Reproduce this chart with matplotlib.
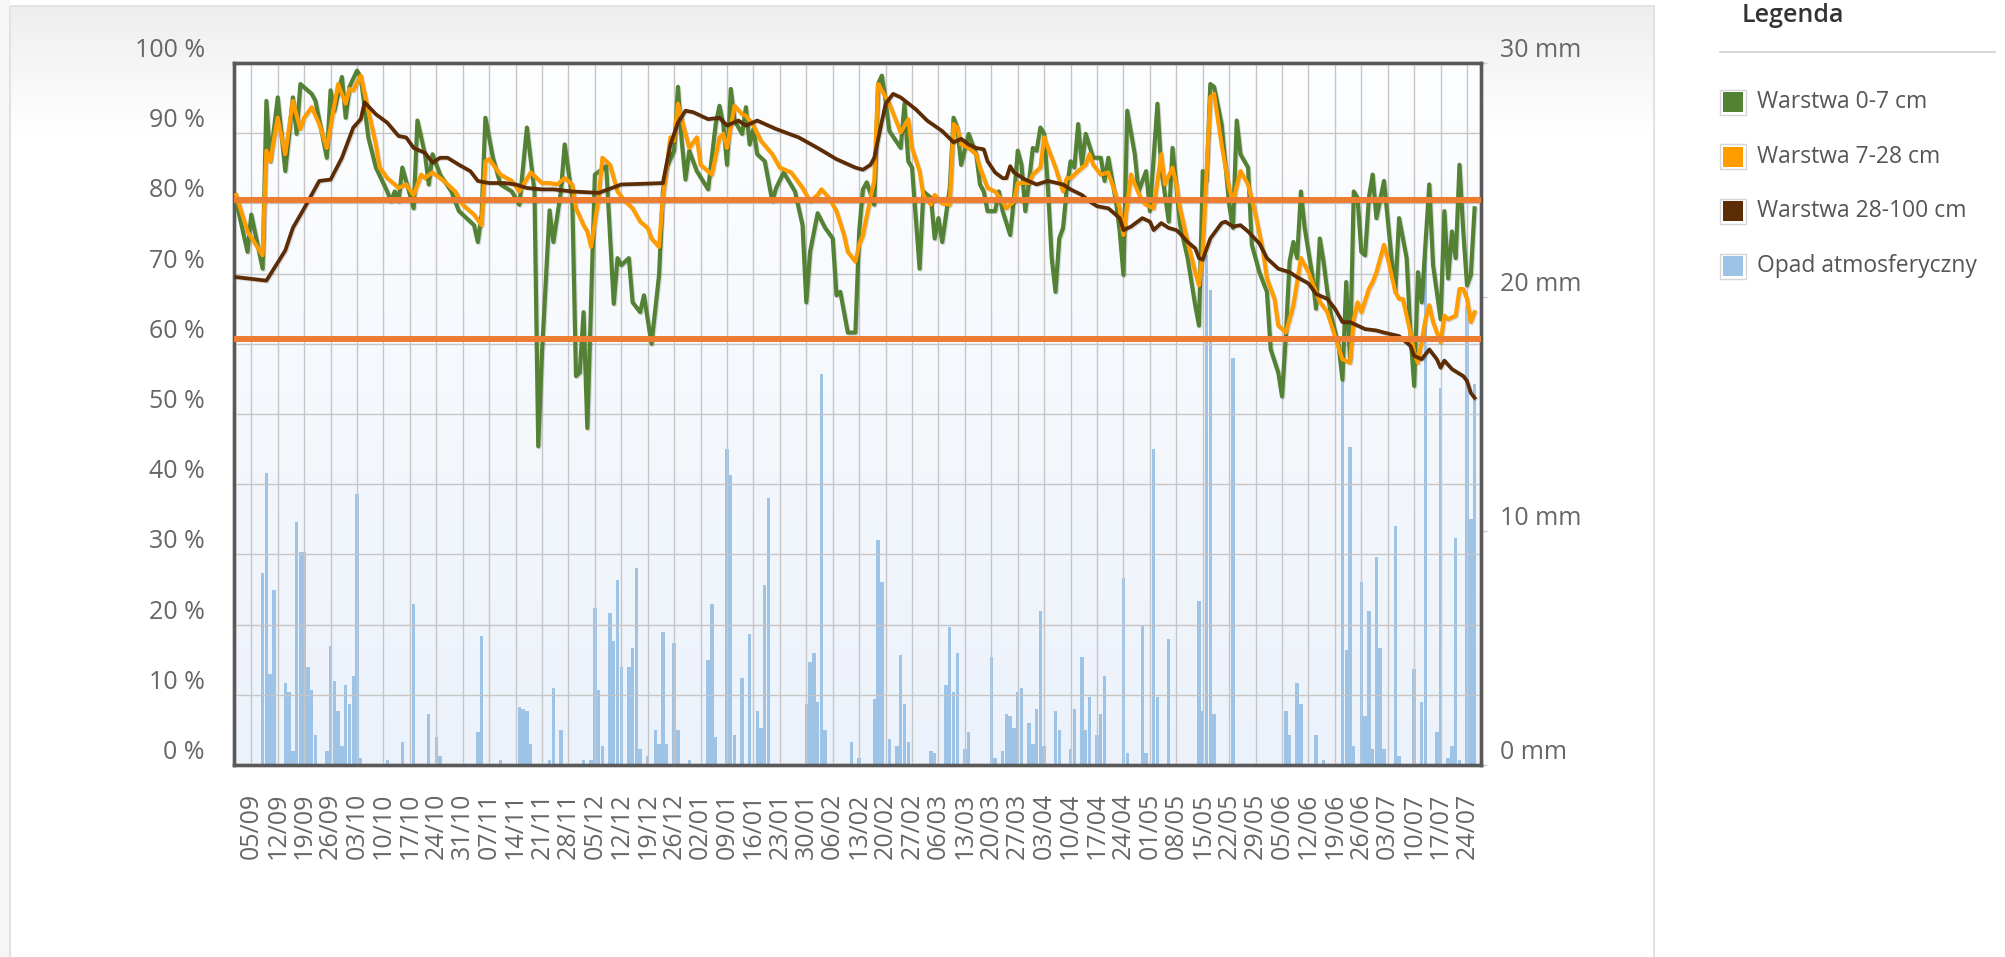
import numpy as np
import pandas as pd
import matplotlib
matplotlib.use('Agg')
import matplotlib.pyplot as plt
import matplotlib.patheffects as pe
from matplotlib.colors import LinearSegmentedColormap
from matplotlib.patches import Rectangle

plt.rcParams['font.family'] = ['Open Sans', 'DejaVu Sans']

# dzien 0 = 01/09/2022, dane dzienne do 26/07/2023
start = pd.Timestamp('2022-09-01')

green_day = [0, 3, 4, 7, 8, 9, 11, 13, 15, 16, 17, 20, 21, 24, 25, 26, 28, 29, 30, 32, 33, 35, 37, 40, 41, 42,
             43, 44, 47, 48, 50, 51, 52, 54, 57, 59, 63, 64, 65, 66, 68, 70, 73, 75, 77, 79, 80, 81, 83, 84,
             86, 87, 89, 90, 91, 92, 93, 95, 98, 100, 101, 102, 104, 105, 107, 108, 110, 112, 113, 114, 116,
             117, 118, 119, 120, 122, 125, 127, 128, 129, 130, 131, 132, 134, 135, 136, 137, 138, 140, 142,
             143, 145, 148, 150, 151, 152, 154, 156, 158, 159, 160, 162, 164, 165, 166, 167, 169, 170, 171,
             172, 173, 176, 177, 178, 179, 181, 182, 184, 185, 186, 187, 189, 190, 191, 192, 194, 196, 197,
             198, 199, 201, 202, 203, 205, 206, 207, 208, 209, 210, 211, 212, 213, 214, 215, 216, 217, 218,
             219, 220, 221, 222, 223, 224, 225, 227, 229, 230, 231, 233, 234, 235, 236, 238, 239, 241, 242,
             244, 245, 247, 248, 250, 252, 254, 255, 256, 257, 258, 259, 261, 263, 264, 265, 266, 268, 269,
             271, 273, 274, 276, 277, 278, 279, 280, 281, 282, 283, 285, 286, 287, 288, 289, 290, 292, 293,
             294, 295, 296, 297, 298, 299, 300, 301, 302, 304, 306, 307, 308, 310, 311, 312, 313, 314, 316,
             317, 319, 320, 321, 322, 323, 324, 325, 326, 327, 328]
green_val = [80.3, 73.1, 78.4, 70.7, 94.6, 86.0, 95.1, 84.6, 95.1, 89.9, 97.0, 95.6, 94.6, 86.5, 96.1, 93.2,
             98.0, 92.2, 96.6, 98.9, 98.0, 89.4, 85.1, 81.7, 80.3, 81.7, 80.3, 85.1, 79.3, 91.8, 87.0, 82.7,
             87.0, 84.1, 81.7, 78.9, 76.9, 74.5, 78.4, 92.2, 86.5, 82.7, 81.7, 79.8, 90.8, 81.7, 45.4, 58.8,
             79.0, 74.5, 81.7, 88.4, 80.8, 55.4, 55.9, 64.5, 48.0, 84.1, 85.3, 65.7, 72.2, 71.2, 72.2, 65.9,
             64.5, 66.9, 60.0, 69.8, 81.7, 85.1, 87.5, 96.6, 88.9, 83.4, 87.5, 84.6, 82.0, 91.3, 93.9, 91.3,
             85.5, 96.3, 91.8, 89.9, 93.7, 88.4, 90.6, 87.0, 86.0, 80.3, 82.2, 84.4, 81.7, 76.9, 65.9, 73.1,
             78.6, 76.5, 75.0, 66.9, 67.4, 61.6, 61.6, 76.0, 82.0, 83.0, 79.8, 97.0, 98.2, 94.6, 90.3, 87.9,
             94.2, 86.0, 85.1, 70.7, 81.7, 80.8, 75.0, 77.9, 74.5, 82.2, 92.2, 90.8, 85.5, 89.9, 87.0, 82.7,
             81.7, 78.9, 78.9, 81.7, 78.9, 75.5, 80.8, 87.5, 85.5, 78.9, 83.2, 87.9, 87.5, 90.8, 89.9, 82.2,
             72.2, 67.4, 75.0, 76.5, 82.2, 86.0, 85.1, 91.3, 85.5, 89.9, 86.5, 86.5, 83.2, 86.5, 80.3, 76.0,
             69.8, 93.2, 87.0, 81.7, 84.6, 78.9, 94.2, 85.0, 77.4, 87.9, 76.9, 72.2, 65.5, 62.6, 84.6, 83.2,
             97.0, 96.6, 91.3, 79.8, 76.5, 91.8, 87.0, 85.1, 74.1, 70.2, 67.4, 59.2, 55.9, 52.5, 61.1, 71.7,
             74.5, 72.2, 81.7, 76.5, 69.8, 65.0, 75.0, 71.7, 67.4, 64.0, 59.7, 54.9, 68.8, 57.8, 81.7, 80.8,
             73.1, 72.6, 80.8, 84.1, 77.9, 83.2, 72.2, 67.4, 77.9, 72.2, 61.6, 54.0, 70.2, 65.9, 82.7, 71.2,
             63.5, 78.9, 69.3, 76.0, 72.2, 85.5, 76.0, 68.3, 69.8, 79.3]

orange_day = [0, 3, 7, 8, 9, 11, 13, 15, 17, 18, 20, 22, 24, 27, 29, 30, 31, 33, 35, 37, 38, 40, 42, 43, 45,
              47, 49, 50, 52, 55, 58, 60, 63, 65, 66, 67, 70, 73, 75, 78, 81, 83, 85, 87, 89, 90, 92, 93, 94,
              96, 97, 99, 101, 103, 105, 107, 109, 110, 112, 113, 115, 116, 117, 119, 120, 122, 123, 126,
              128, 129, 130, 132, 134, 135, 137, 139, 142, 144, 147, 150, 152, 154, 155, 157, 159, 161, 162,
              164, 165, 166, 168, 169, 170, 171, 173, 176, 178, 179, 181, 182, 184, 185, 187, 189, 190, 191,
              192, 194, 196, 197, 199, 201, 203, 204, 206, 207, 210, 211, 213, 214, 215, 217, 219, 220, 221,
              223, 225, 226, 227, 229, 231, 233, 234, 235, 237, 238, 240, 241, 243, 245, 246, 248, 249, 250,
              252, 254, 255, 256, 258, 259, 261, 263, 264, 266, 268, 270, 272, 273, 275, 276, 278, 279, 280,
              281, 282, 284, 286, 287, 289, 291, 293, 295, 296, 297, 298, 300, 301, 302, 304, 305, 307, 308,
              309, 311, 312, 313, 315, 316, 317, 319, 320, 321, 323, 324, 325, 326, 327, 328]
orange_val = [81.2, 76.0, 72.6, 87.5, 86.0, 92.2, 87.0, 94.6, 90.6, 92.2, 93.7, 91.3, 87.9, 97.0, 94.2, 96.3,
              96.1, 98.2, 93.2, 88.4, 85.1, 83.6, 82.7, 82.2, 82.7, 81.2, 84.1, 83.6, 84.4, 83.2, 81.7, 79.8,
              78.4, 76.9, 86.0, 86.3, 84.1, 83.2, 81.7, 84.4, 82.9, 82.9, 82.7, 83.6, 82.7, 79.3, 76.9, 76.0,
              73.8, 80.8, 86.5, 85.5, 81.7, 80.3, 79.3, 77.4, 76.5, 75.0, 73.8, 80.8, 89.4, 88.9, 94.2, 89.9,
              87.9, 89.4, 85.5, 84.1, 89.4, 89.9, 87.9, 93.9, 92.7, 92.5, 91.1, 88.9, 87.0, 85.1, 84.4, 82.2,
              80.3, 81.2, 82.0, 80.8, 78.9, 75.5, 73.1, 71.7, 74.1, 75.5, 80.8, 83.2, 97.0, 96.1, 94.2, 90.1,
              92.0, 87.9, 84.6, 81.2, 79.8, 81.2, 80.0, 79.8, 91.3, 90.8, 88.4, 87.9, 87.0, 85.1, 82.2, 81.7,
              80.3, 79.3, 80.3, 82.9, 82.9, 84.1, 85.1, 89.4, 87.9, 85.1, 81.7, 83.6, 83.6, 84.6, 85.5, 87.0,
              85.5, 84.1, 84.4, 81.2, 79.3, 75.5, 84.1, 82.7, 80.3, 79.8, 79.3, 87.0, 82.7, 85.1, 82.7, 79.3,
              74.5, 70.2, 68.3, 73.1, 95.1, 95.6, 88.4, 82.2, 80.3, 84.6, 82.7, 78.4, 73.1, 69.3, 66.4, 62.6,
              61.6, 63.5, 65.5, 68.8, 72.2, 70.2, 67.4, 66.0, 64.5, 61.1, 57.8, 57.3, 63.5, 65.9, 64.5, 67.8,
              68.8, 70.2, 74.1, 72.2, 67.4, 66.4, 66.4, 61.6, 58.8, 57.3, 63.5, 65.5, 63.1, 60.2, 64.0, 63.5,
              64.0, 67.8, 67.8, 66.4, 63.1, 64.5]

brown_day = [0, 8, 13, 15, 18, 22, 25, 28, 31, 33, 34, 37, 40, 43, 45, 47, 50, 52, 54, 56, 59, 62, 64, 67, 71,
             74, 77, 81, 84, 89, 96, 102, 108, 113, 115, 117, 119, 121, 125, 128, 130, 133, 135, 138, 143,
             149, 154, 159, 164, 166, 168, 169, 172, 174, 176, 180, 183, 187, 190, 192, 194, 196, 198, 199,
             201, 203, 204, 205, 206, 209, 212, 215, 219, 221, 224, 226, 228, 231, 234, 235, 237, 240, 242,
             243, 245, 247, 249, 250, 252, 254, 255, 256, 258, 261, 262, 264, 266, 268, 271, 273, 276, 279,
             281, 284, 286, 289, 291, 293, 295, 297, 299, 302, 304, 308, 311, 312, 314, 316, 318, 319, 320,
             322, 325, 326, 327, 328]
brown_val = [69.5, 69.0, 73.3, 76.5, 79.3, 83.2, 83.4, 86.5, 90.8, 92.0, 94.4, 92.7, 91.5, 89.6, 89.4, 87.9,
             87.2, 85.8, 86.5, 86.5, 85.5, 84.6, 83.2, 82.9, 82.9, 82.7, 82.2, 82.0, 82.0, 81.7, 81.5, 82.7,
             82.8, 82.9, 88.4, 91.5, 93.2, 93.0, 92.0, 92.2, 91.1, 91.8, 91.1, 91.8, 90.6, 89.4, 87.9, 86.3,
             85.1, 84.8, 85.5, 86.5, 94.2, 95.6, 95.1, 93.4, 91.8, 90.3, 88.7, 89.2, 88.4, 87.9, 87.7, 86.0,
             84.4, 83.6, 83.6, 85.3, 84.4, 83.4, 82.7, 83.2, 82.7, 82.0, 81.2, 80.3, 79.6, 79.3, 77.9, 76.2,
             76.7, 77.9, 77.4, 76.2, 77.2, 76.5, 76.2, 75.7, 74.5, 73.6, 72.2, 72.0, 75.0, 77.2, 77.4, 76.7,
             76.9, 76.0, 74.3, 72.2, 70.7, 70.2, 69.5, 68.6, 67.1, 66.4, 65.0, 63.1, 63.1, 62.6, 62.1, 61.9,
             61.6, 61.1, 59.7, 58.3, 57.8, 59.2, 57.8, 56.6, 57.6, 56.4, 55.4, 54.7, 53.0, 52.3]

rain_day = [7, 8, 9, 10, 13, 14, 15, 16, 17, 18, 19, 20, 21, 24, 25, 26, 27, 28, 29, 30, 31, 32, 33, 40, 44,
            47, 51, 53, 54, 64, 65, 70, 75, 76, 77, 78, 83, 84, 86, 92, 94, 95, 96, 97, 99, 100, 101, 102,
            104, 105, 106, 107, 109, 111, 112, 113, 114, 116, 117, 120, 125, 126, 127, 130, 131, 132, 134,
            136, 138, 139, 140, 141, 151, 152, 153, 154, 155, 156, 163, 165, 169, 170, 171, 173, 175, 176,
            177, 178, 184, 185, 188, 189, 190, 191, 193, 194, 200, 201, 203, 204, 205, 206, 207, 208, 210,
            211, 212, 213, 214, 217, 218, 221, 222, 224, 225, 226, 228, 229, 230, 235, 236, 240, 241, 243,
            244, 247, 255, 256, 257, 258, 259, 264, 278, 279, 281, 282, 286, 288, 293, 294, 295, 296, 298,
            299, 300, 301, 302, 303, 304, 307, 308, 312, 314, 315, 318, 319, 321, 322, 323, 324, 326, 327,
            328]
rain_mm = [8.2, 12.5, 3.9, 7.5, 3.5, 3.1, 0.6, 10.4, 9.1, 9.1, 4.2, 3.2, 1.3, 0.6, 5.1, 3.6, 2.3, 0.8, 3.4,
           2.6, 3.8, 11.6, 0.3, 0.2, 1.0, 6.9, 2.2, 1.2, 0.4, 1.4, 5.5, 0.2, 2.5, 2.4, 2.3, 0.9, 0.2, 3.3,
           1.5, 0.2, 0.2, 6.7, 3.2, 0.8, 6.5, 5.3, 7.9, 4.2, 4.2, 5.0, 8.4, 0.7, 0.4, 1.5, 0.9, 5.7, 0.9,
           5.2, 1.5, 0.2, 4.5, 6.9, 1.2, 13.5, 12.4, 1.3, 3.7, 5.6, 2.3, 1.6, 7.7, 11.4, 2.6, 4.4, 4.8, 2.7,
           16.7, 1.5, 1.0, 0.3, 2.8, 9.6, 7.8, 1.1, 0.8, 4.7, 2.6, 1.0, 0.6, 0.5, 3.4, 5.9, 3.1, 4.8, 0.7,
           1.4, 4.6, 0.3, 0.6, 2.2, 2.1, 1.6, 3.1, 3.3, 1.8, 0.9, 2.4, 6.6, 0.8, 2.3, 1.5, 0.7, 2.4, 4.6,
           1.5, 2.9, 1.3, 2.2, 3.8, 8.0, 0.5, 6.0, 0.5, 13.5, 2.9, 5.4, 7.0, 2.3, 21.8, 20.3, 2.2, 17.4,
           2.3, 1.3, 3.5, 2.6, 1.3, 0.2, 16.4, 4.9, 13.6, 0.8, 7.8, 2.1, 6.6, 0.7, 8.9, 5.0, 0.7, 10.2, 0.4,
           4.1, 2.7, 22.0, 1.4, 16.1, 0.3, 0.8, 9.7, 0.2, 19.6, 10.5, 16.3]

thresholds = [80.5, 60.7]
series_names = ['Warstwa 0-7 cm', 'Warstwa 7-28 cm', 'Warstwa 28-100 cm', 'Opad atmosferyczny']
series_colors = ['#548235', '#ff9c00', '#5c2c04', '#9dc3e6']

week_ticks = pd.date_range('2022-09-05', '2023-07-24', freq='7D')
week_pos = (week_ticks - start).days
week_lab = week_ticks.strftime('%d/%m')

W, H = 2005, 957
fig = plt.figure(figsize=(W / 100, H / 100), dpi=100)

# tlo karty (wspolrzedne w pikselach)
bg = fig.add_axes([0, 0, 1, 1], zorder=-10)
bg.set_xlim(0, W)
bg.set_ylim(H, 0)
bg.axis('off')
bg.add_patch(Rectangle((0, 0), 10, H, color='#f6f6f6', lw=0))
top_grad = LinearSegmentedColormap.from_list('top', ['#eeeeee', '#ffffff'])
bg.imshow(np.linspace(0, 1, 200)[:, None], extent=[10, 1654, 135, 6], cmap=top_grad, aspect='auto')
bg.add_patch(Rectangle((10, 6), 1644, 1000, fill=False, ec='#e2e2e2', lw=1.5))

# legenda
bg.text(1742, 16, 'Legenda', fontsize=18, fontweight='semibold', color='#333333', va='center')
bg.plot([1720, 1995], [52, 52], color='#d0d0d0', lw=1.2)
for i, (name, col) in enumerate(zip(series_names, series_colors)):
    yc = 102 + i * 54.7
    bg.add_patch(Rectangle((1720, yc - 12.5), 26, 25, fc='white', ec='#d6d6d6', lw=1))
    bg.add_patch(Rectangle((1723, yc - 10), 20, 20, fc=col, ec='none'))
    bg.text(1757, yc, name, fontsize=16.5, color='#555555', va='center')

# os opadow (spod) + os wilgotnosci (wierzch)
ax = fig.add_axes([234 / W, 1 - 765 / H, (1481 - 234) / W, (765 - 63) / H])
ax.set_xlim(-0.58, 329.7)
ax.set_ylim(0, 30)
plot_grad = LinearSegmentedColormap.from_list('plot', ['#fdfeff', '#ecf2fb'])
ax.imshow(np.linspace(0, 1, 256)[:, None], extent=[-0.58, 329.7, 0, 30], cmap=plot_grad,
          aspect='auto', zorder=0)
ax.bar(rain_day, rain_mm, width=0.9, color=series_colors[3], zorder=1)

ax2 = ax.twinx()
ax2.set_ylim(0, 100)
ax2.xaxis.set_visible(True)
ax2.set_axisbelow(True)
ax2.grid(True, color='#c6c6c6', lw=1.0)

shadow = [pe.SimpleLineShadow(offset=(0.8, -0.8), shadow_color='k', alpha=0.14), pe.Normal()]
ax2.plot(green_day, green_val, color=series_colors[0], lw=3.0, zorder=3, path_effects=shadow)
ax2.plot(orange_day, orange_val, color=series_colors[1], lw=3.0, zorder=4, path_effects=shadow)
ax2.plot(brown_day, brown_val, color=series_colors[2], lw=2.7, zorder=5, path_effects=shadow)
for t in thresholds:
    ax2.axhline(t, color='#ed7d31', lw=4.3, zorder=6)

# osie
ax.set_xticks(week_pos)
ax.set_xticklabels(week_lab, rotation=90)
ax.tick_params(axis='x', length=0, pad=20, labelsize=18, labelcolor='#666666')
ax2.tick_params(axis='x', length=0, labelbottom=False)

ax.yaxis.tick_right()
ax.set_yticks([0, 10, 20, 30])
ax.set_yticklabels([f'{v} mm' for v in [0, 10, 20, 30]], va='bottom')
ax.tick_params(axis='y', length=4.5, width=1, color='#cccccc', pad=9, labelsize=18, labelcolor='#666666')

ax2.yaxis.tick_left()
ax2.set_yticks(range(0, 101, 10))
ax2.set_yticklabels([f'{v} %' for v in range(0, 101, 10)], va='bottom')
ax2.tick_params(axis='y', length=0, pad=21, labelsize=18, labelcolor='#666666')

for a in (ax, ax2):
    for s in a.spines.values():
        s.set_color('#595959')
        s.set_linewidth(2.4)

fig.savefig('out.png', dpi=100)
